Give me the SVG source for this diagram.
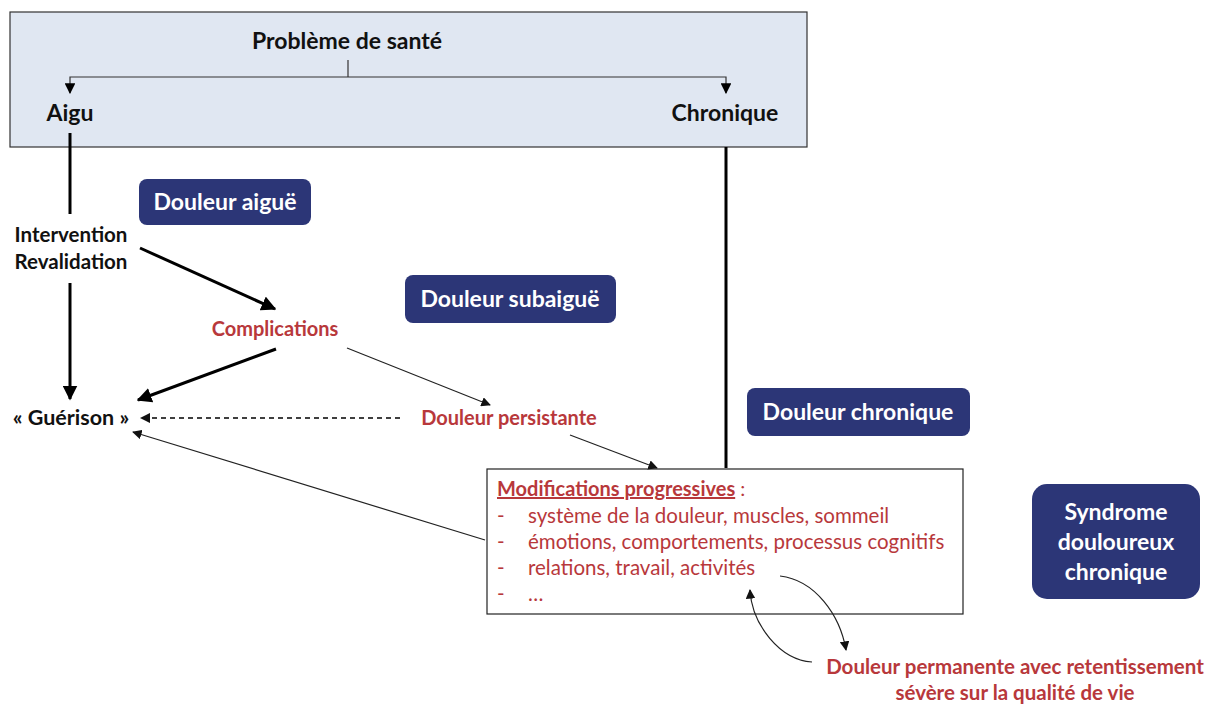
<svg xmlns="http://www.w3.org/2000/svg" width="1210" height="704" viewBox="0 0 1210 704">
<style>
text{font-family:Lato,"Open Sans","Liberation Sans",sans-serif}
.b{font-weight:bold;fill:#111}
.r{fill:#b8383b}
.rb{font-weight:bold;fill:#b8383b}
.w{font-weight:bold;fill:#fff;font-size:23px}
.box{fill:#2c3677}
.thick{stroke:#000;stroke-width:3;fill:none}
.thin{stroke:#222;stroke-width:1.2;fill:none}
.dash{stroke:#000;stroke-width:1.3;fill:none;stroke-dasharray:5,4}
</style>
<defs>
<marker id="ah" viewBox="0 0 10 10" refX="9" refY="5" markerWidth="5" markerHeight="5" orient="auto"><path d="M0,0L10,5L0,10z" fill="#000"/></marker>
<marker id="ahs" viewBox="0 0 10 10" refX="9" refY="5" markerWidth="9" markerHeight="9" orient="auto"><path d="M0,0L10,5L0,10z" fill="#000"/></marker>
<marker id="ahm" viewBox="0 0 10 10" refX="9" refY="5" markerWidth="8" markerHeight="8" orient="auto"><path d="M0,0L10,5L0,10z" fill="#111"/></marker>
</defs>
<g id="top">
<rect x="10" y="12" width="797" height="135" fill="#e0e7f2" stroke="#333" stroke-width="1.2"/>
<text x="347" y="49" class="b" font-size="23" text-anchor="middle">Problème de santé</text>
<text x="70" y="121" class="b" font-size="23" text-anchor="middle">Aigu</text>
<text x="725" y="121" class="b" font-size="23" text-anchor="middle">Chronique</text>
</g>
<g id="n-aigue"><rect class="box" x="139" y="179" width="172" height="46" rx="8"/><text x="225" y="210" class="w" text-anchor="middle">Douleur aiguë</text></g>
<g id="n-subaigue"><rect class="box" x="405" y="275" width="211" height="48" rx="8"/><text x="510" y="307" class="w" text-anchor="middle">Douleur subaiguë</text></g>
<g id="n-chronique"><rect class="box" x="747" y="388" width="223" height="48" rx="8"/><text x="858" y="420" class="w" text-anchor="middle">Douleur chronique</text></g>
<g id="n-syndrome"><rect class="box" x="1032" y="484" width="168" height="115" rx="15"/>
<text class="w" text-anchor="middle"><tspan x="1116" y="520">Syndrome</tspan><tspan x="1116" y="550">douloureux</tspan><tspan x="1116" y="580">chronique</tspan></text></g>
<g id="n-intervention"><text class="b" font-size="20.5" text-anchor="middle"><tspan x="71" y="242">Intervention</tspan><tspan x="71" y="269">Revalidation</tspan></text></g>
<g id="n-complications"><text x="275" y="336" class="rb" font-size="20" text-anchor="middle">Complications</text></g>
<g id="n-guerison"><text x="71" y="425" class="b" font-size="21.5" text-anchor="middle">« Guérison »</text></g>
<g id="n-persistante"><text x="509" y="425" class="rb" font-size="20" text-anchor="middle">Douleur persistante</text></g>
<g id="n-modifs">
<rect x="487" y="469" width="476" height="145" fill="#fff" stroke="#222" stroke-width="1.2"/>
<text x="497" y="496" class="r" font-size="20"><tspan font-weight="bold" text-decoration="underline">Modifications progressives</tspan> :</text>
<g class="r" font-size="20.5">
<text x="497" y="523">-</text><text x="528" y="523">système de la douleur, muscles, sommeil</text>
<text x="497" y="549">-</text><text x="528" y="549">émotions, comportements, processus cognitifs</text>
<text x="497" y="575">-</text><text x="528" y="575">relations, travail, activités</text>
<text x="497" y="601">-</text><text x="528" y="601">…</text>
</g>
</g>
<g id="n-permanente"><text class="rb" font-size="20.5" text-anchor="middle"><tspan x="1015" y="674">Douleur permanente avec retentissement</tspan><tspan x="1015" y="700">sévère sur la qualité de vie</tspan></text></g>
<g id="connectors">
<path d="M348,60V77" stroke="#333" stroke-width="1.2"/>
<path d="M348,77H70V93" stroke="#333" stroke-width="1.2" fill="none" marker-end="url(#ahs)"/>
<path d="M348,77H726V93" stroke="#333" stroke-width="1.2" fill="none" marker-end="url(#ahs)"/>
<path class="thick" d="M70,133V214"/>
<path class="thick" d="M726,147V468"/>
<path class="thick" d="M70,283V399" marker-end="url(#ah)"/>
<path class="thick" d="M140,248L275,309" marker-end="url(#ah)"/>
<path class="thick" d="M276,349L138,400" marker-end="url(#ah)"/>
<path class="thin" d="M347,348L490,405" marker-end="url(#ahm)"/>
<path class="dash" d="M400,418H141" marker-end="url(#ahm)"/>
<path class="thin" d="M570,435L657,468" marker-end="url(#ahm)"/>
<path class="thin" d="M485,540L133,432" marker-end="url(#ahm)"/>
<path class="thin" d="M780,576C815,580 840,615 846,650" marker-end="url(#ahm)"/>
<path class="thin" d="M812,662C780,660 752,625 750,590" marker-end="url(#ahm)"/>
</g>
</svg>
